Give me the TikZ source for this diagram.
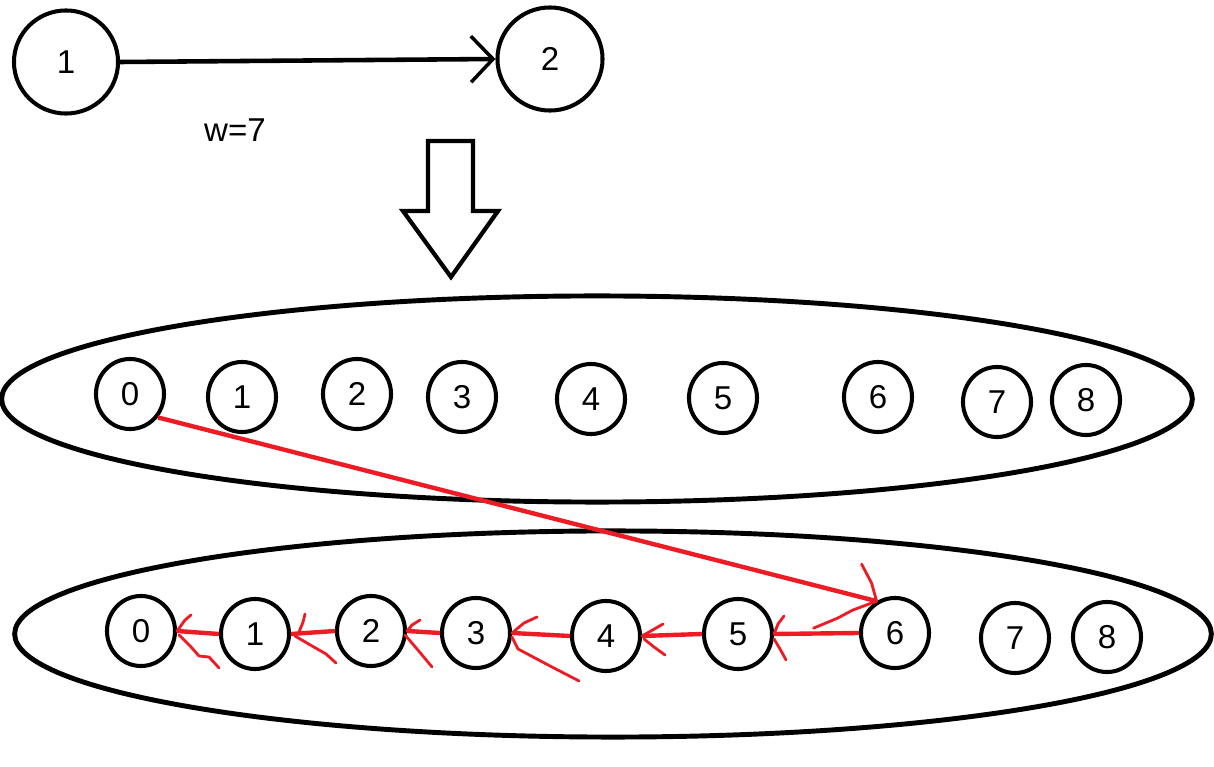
\documentclass[tikz,border=0pt]{standalone}
\usepackage{fontspec}
\setmainfont{Liberation Sans}
\usetikzlibrary{arrows.meta,shapes.geometric}

\definecolor{paintred}{RGB}{237,28,36}
\tikzset{
  vtx/.style={draw, ellipse, line width=1.15pt, inner sep=0pt, minimum width=0.68cm, minimum height=0.7cm},
  bigvtx/.style={vtx, minimum width=1.04cm, minimum height=1.03cm},
  redlink/.style={draw=paintred, line width=1.25pt},
  redhead/.style={draw=paintred, line width=0.8pt, line cap=round, line join=round}
}

\begin{document}
\begin{tikzpicture}[x=0.01cm, y=-0.01cm, every node/.style={font=\fontsize{9.4}{11}\selectfont}]
  \useasboundingbox (0,0) rectangle (1214,767);

  % one weighted edge
  \node[bigvtx] (u) at (66,62) {1};
  \node[bigvtx, minimum width=1.05cm] (v) at (550,59) {2};
  \draw[line width=1.3pt, -{Straight Barb[length=0.22cm, width=0.46cm, line width=1pt]}] (u.east) -- (v.west);
  \node (wt) at (235,130) {w=7};

  % turns into
  \draw[line width=1.2pt] (428,141) -- (473,141) -- (473,211) -- (498,211) -- (451,277) -- (403,211) -- (428,211) -- cycle;

  % the two layers
  \draw[line width=1.4pt] (597,399) ellipse [x radius=5.95cm, y radius=1.03cm];
  \draw[line width=1.4pt] (613,634) ellipse [x radius=5.98cm, y radius=1.03cm];

  \node[vtx] (t0) at (130,394) {0};
  \node[vtx] (t1) at (242,397) {1};
  \node[vtx] (t2) at (357,394) {2};
  \node[vtx] (t3) at (462,397) {3};
  \node[vtx] (t4) at (591,399) {4};
  \node[vtx] (t5) at (723,398) {5};
  \node[vtx] (t6) at (878,397) {6};
  \node[vtx] (t7) at (997,402) {7};
  \node[vtx] (t8) at (1086,400) {8};

  \node[vtx] (b0) at (141,631) {0};
  \node[vtx] (b1) at (255,634) {1};
  \node[vtx] (b2) at (371,631) {2};
  \node[vtx] (b3) at (476,633) {3};
  \node[vtx] (b4) at (606,636) {4};
  \node[vtx] (b5) at (738,634) {5};
  \node[vtx] (b6) at (895,633) {6};
  \node[vtx] (b7) at (1015,638) {7};
  \node[vtx] (b8) at (1107,637) {8};

  % jump of length w
  \draw[redlink] (t0.-40) -- (b6.120);
  \draw[redhead] (b6.120) -- ++(-5,-18) -- ++(-10,-19);
  \draw[redhead] (b6.120) -- ++(-24,9) -- ++(-15,8) -- ++(-24,10);

  % back along the chain
  \draw[redlink] (b6.west) -- (b5.east);
  \draw[redhead] (b5.east) -- ++(4,-10) -- ++(6,-8);
  \draw[redhead] (b5.east) ++(0,5) -- ++(6,10) -- ++(6,11);
  \draw[redlink] (b5.west) -- (b4.east);
  \draw[redhead] (b4.east) -- ++(21,-12);
  \draw[redhead] (b4.east) ++(2,3) -- ++(10,8) -- ++(11,8);
  \draw[redlink] (b4.west) -- (b3.east);
  \draw[redhead] (b3.east) -- ++(12,-10) -- ++(13,-6);
  \draw[redhead] (b3.east) ++(0,4) -- ++(6,12) -- ++(32,17) -- ++(29,15);
  \draw[redlink] (b3.west) -- (b2.east);
  \draw[redhead] (b2.east) -- ++(5,-6) -- ++(8,-5);
  \draw[redhead] (b2.east) ++(-2,4) -- ++(12,14) -- ++(15,18);
  \draw[redlink] (b2.west) -- (b1.east);
  \draw[redhead] (b1.east) ++(8,-2) -- ++(4,-10) -- ++(2,-8);
  \draw[redhead] (b1.east) ++(4,2) -- ++(17,10) -- ++(14,8) -- ++(10,9);
  \draw[redlink] (b1.west) -- (b0.east);
  \draw[redhead] (b0.east) -- ++(8,-11) -- ++(6,-5);
  \draw[redhead] (b0.east) ++(2,4) -- ++(12,12) -- ++(8,9) -- ++(10,1) -- ++(10,11);
\end{tikzpicture}
\end{document}
